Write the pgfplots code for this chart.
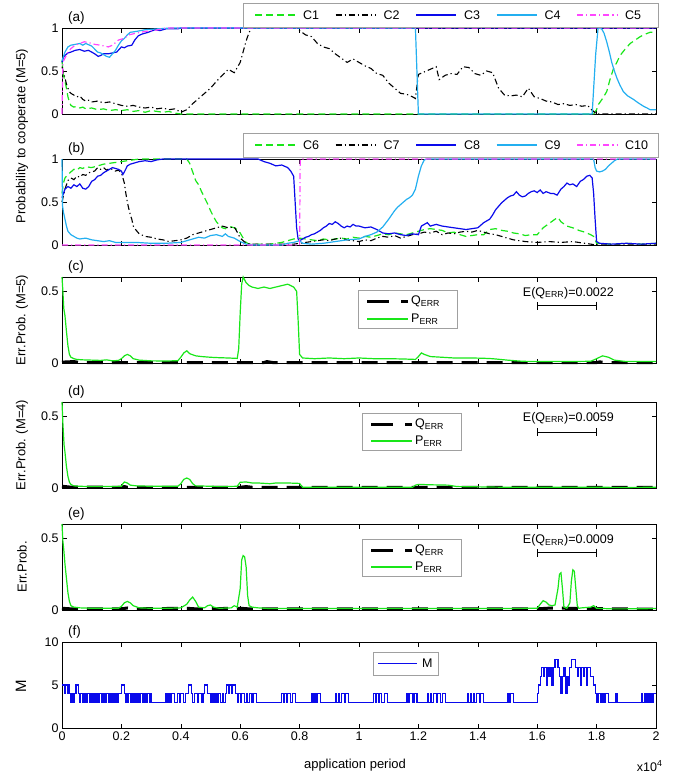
\documentclass[border=0pt]{standalone}
\usepackage{pgfplots}
\pgfplotsset{compat=1.18}
\usepackage{fontspec}
\setmainfont{Liberation Sans}
\usetikzlibrary{arrows.meta}
\definecolor{colG}{RGB}{25,230,25}
\definecolor{colB}{RGB}{10,10,235}
\definecolor{colBL}{RGB}{12,12,236}
\definecolor{colLB}{RGB}{35,175,240}
\definecolor{colM}{RGB}{255,70,255}
\definecolor{legframe}{RGB}{160,160,160}
\tikzset{
 sC1/.style={draw=colG, line width=1.2pt, dash pattern=on 7pt off 4pt},
 sC2/.style={draw=black, line width=1.1pt, dash pattern=on 6pt off 3pt on 1.2pt off 3pt},
 sC3/.style={draw=colB, line width=1.2pt},
 sC4/.style={draw=colLB, line width=1.2pt},
 sC5/.style={draw=colM, line width=1.2pt, dash pattern=on 6pt off 3pt on 1.2pt off 3pt},
 sQ/.style={draw=black, line width=3pt, dash pattern=on 16pt off 9pt},
 sP/.style={draw=colG, line width=1.2pt},
 sM/.style={draw=colB, line width=1.2pt},
 legtxt/.style={anchor=west, inner sep=0pt, font=\fontsize{12.5}{14}\selectfont},
}
\pgfplotsset{
  panel/.style={
    scale only axis, width=594pt, height=86pt, anchor=north west,
    xmin=0, xmax=2,
    xtick={0,0.2,0.4,0.6,0.8,1,1.2,1.4,1.6,1.8,2},
    xticklabels={},
    tick align=inside, major tick length=4.5pt,
    xtick pos=both, ytick pos=both, xticklabel pos=lower, yticklabel pos=left,
    tick style={black, line width=0.6pt},
    axis line style={line width=0.7pt},
    tick label style={font=\fontsize{12.5}{14}\selectfont},
    /pgf/number format/assume math mode=true,
    clip=false,
  },
  ab/.style={ymin=0, ymax=1, ytick={0,0.5,1}, yticklabels={0,0.5,1}},
  err/.style={ymin=0, ymax=0.6, ytick={0,0.5}, yticklabels={0,0.5}},
}
\newcommand{\plab}[1]{\node[anchor=base west, font=\fontsize{13.5}{15}\selectfont, inner sep=0pt] at (rel axis cs:0.01,1.07) {#1};}
% manual legend pieces: \legent{style}{x}{y}{text}
\newcommand{\legent}[4]{\draw[#1] (#2pt,-#3pt) -- ++(40pt,0pt); \node[legtxt] at (#2pt+48pt,-#3pt) {#4};}
\newcommand{\legentb}[4]{\draw[#1] (#2pt,-#3pt) -- ++(41pt,0pt); \node[legtxt] at (#2pt+44pt,-#3pt) {#4};}
\begin{document}
\begin{tikzpicture}
\path[use as bounding box] (0,0) rectangle (684pt,-777pt);

% ---------------- (a)
\begin{axis}[panel, ab, at={(62pt,-28pt)}]
\addplot[sC1] coordinates {(0,0.62)(0.005,0.45)(0.01,0.38)(0.015,0.3)(0.02,0.2)(0.025,0.14)(0.03,0.1)(0.04,0.08)(0.05,0.09)(0.06,0.07)(0.07,0.08)(0.08,0.06)(0.1,0.07)(0.12,0.05)(0.14,0.06)(0.16,0.04)(0.18,0.05)(0.2,0.04)(0.22,0.05)(0.24,0.03)(0.26,0.04)(0.28,0.02)(0.3,0.04)(0.32,0.03)(0.34,0.02)(0.36,0.03)(0.38,0.01)(0.4,0)(1.79,0)(1.8,0.05)(1.806,0.11)(1.82,0.18)(1.834,0.26)(1.845,0.4)(1.857,0.53)(1.868,0.6)(1.879,0.68)(1.895,0.75)(1.913,0.82)(1.93,0.86)(1.947,0.9)(1.965,0.93)(1.98,0.95)(2,0.95)};
\addplot[sC2] coordinates {(0,0.55)(0.005,0.48)(0.01,0.42)(0.015,0.35)(0.02,0.3)(0.025,0.26)(0.03,0.24)(0.04,0.22)(0.05,0.2)(0.06,0.21)(0.07,0.17)(0.08,0.15)(0.09,0.16)(0.1,0.14)(0.12,0.15)(0.14,0.13)(0.16,0.14)(0.18,0.12)(0.2,0.1)(0.22,0.09)(0.24,0.1)(0.26,0.08)(0.28,0.07)(0.3,0.08)(0.32,0.06)(0.34,0.07)(0.36,0.05)(0.38,0.06)(0.4,0.02)(0.42,0.05)(0.44,0.12)(0.46,0.18)(0.48,0.24)(0.5,0.3)(0.52,0.38)(0.54,0.45)(0.56,0.52)(0.58,0.48)(0.6,0.6)(0.62,0.85)(0.63,0.95)(0.64,1)(0.79,1)(0.8,0.97)(0.82,0.92)(0.84,0.9)(0.86,0.82)(0.88,0.78)(0.9,0.76)(0.92,0.7)(0.94,0.65)(0.96,0.6)(0.98,0.64)(1.0,0.6)(1.02,0.56)(1.04,0.53)(1.06,0.47)(1.08,0.45)(1.1,0.36)(1.12,0.3)(1.14,0.24)(1.16,0.23)(1.18,0.2)(1.19,0.18)(1.2,0.46)(1.22,0.49)(1.24,0.52)(1.26,0.55)(1.27,0.4)(1.29,0.45)(1.31,0.47)(1.33,0.46)(1.35,0.55)(1.37,0.54)(1.39,0.47)(1.41,0.45)(1.43,0.5)(1.45,0.48)(1.47,0.3)(1.49,0.22)(1.51,0.21)(1.53,0.22)(1.55,0.2)(1.57,0.3)(1.59,0.2)(1.61,0.18)(1.63,0.15)(1.65,0.14)(1.67,0.11)(1.69,0.12)(1.71,0.1)(1.73,0.11)(1.75,0.09)(1.77,0.1)(1.78,0.06)(1.8,0)(2,0)};
\addplot[sC3] coordinates {(0,0.6)(0.005,0.66)(0.01,0.68)(0.02,0.71)(0.03,0.72)(0.044,0.74)(0.06,0.75)(0.075,0.73)(0.089,0.74)(0.1,0.72)(0.11,0.7)(0.122,0.67)(0.13,0.68)(0.14,0.7)(0.156,0.7)(0.17,0.71)(0.184,0.72)(0.2,0.78)(0.21,0.77)(0.22,0.79)(0.235,0.8)(0.245,0.86)(0.257,0.91)(0.27,0.93)(0.29,0.95)(0.313,0.98)(0.33,0.97)(0.35,0.99)(0.39,0.99)(0.4,1)(2,1)};
\addplot[sC4] coordinates {(0,0.62)(0.01,0.72)(0.02,0.78)(0.03,0.8)(0.045,0.81)(0.06,0.82)(0.07,0.8)(0.08,0.82)(0.1,0.79)(0.12,0.72)(0.13,0.71)(0.15,0.67)(0.16,0.66)(0.17,0.7)(0.18,0.74)(0.19,0.8)(0.2,0.85)(0.21,0.88)(0.22,0.92)(0.23,0.95)(0.25,0.96)(0.28,0.98)(0.32,0.99)(0.37,1)(1.19,1)(1.195,0.5)(1.2,0)(1.785,0)(1.797,0.7)(1.805,1)(1.817,0.99)(1.825,0.94)(1.834,0.84)(1.843,0.72)(1.851,0.6)(1.86,0.5)(1.868,0.42)(1.878,0.34)(1.89,0.26)(1.905,0.21)(1.924,0.17)(1.94,0.13)(1.958,0.09)(1.97,0.07)(1.98,0.05)(2,0.05)};
\addplot[sC5] coordinates {(0,0)(0.003,0.6)(0.01,0.65)(0.02,0.72)(0.03,0.76)(0.044,0.8)(0.06,0.82)(0.075,0.84)(0.09,0.83)(0.11,0.81)(0.13,0.8)(0.156,0.78)(0.17,0.8)(0.19,0.86)(0.21,0.88)(0.225,0.92)(0.25,0.94)(0.28,0.96)(0.31,0.97)(0.35,1)(2,1)};
\plab{(a)}
\end{axis}

% ---------------- (b)
\begin{axis}[panel, ab, at={(62pt,-159pt)}]
\addplot[sC1] coordinates {(0,0.6)(0.005,0.72)(0.01,0.78)(0.02,0.82)(0.03,0.85)(0.04,0.88)(0.05,0.87)(0.06,0.9)(0.07,0.89)(0.08,0.91)(0.1,0.9)(0.12,0.92)(0.14,0.94)(0.16,0.95)(0.18,0.96)(0.2,0.97)(0.22,0.98)(0.24,0.99)(0.26,1)(0.42,1)(0.43,0.95)(0.44,0.85)(0.45,0.75)(0.46,0.7)(0.47,0.62)(0.48,0.55)(0.49,0.48)(0.5,0.4)(0.51,0.33)(0.52,0.27)(0.53,0.23)(0.54,0.2)(0.55,0.19)(0.56,0.22)(0.57,0.21)(0.58,0.2)(0.59,0.18)(0.6,0.14)(0.61,0.08)(0.62,0.03)(0.63,0.01)(0.7,0.01)(0.72,0.02)(0.74,0.03)(0.76,0.05)(0.78,0.07)(0.8,0.08)(0.82,0.07)(0.84,0.06)(0.86,0.05)(0.88,0.07)(0.9,0.06)(0.92,0.07)(0.94,0.08)(0.96,0.07)(0.98,0.09)(1.0,0.08)(1.02,0.1)(1.04,0.09)(1.06,0.11)(1.08,0.13)(1.1,0.12)(1.12,0.14)(1.14,0.13)(1.16,0.12)(1.18,0.14)(1.2,0.16)(1.22,0.18)(1.24,0.19)(1.26,0.18)(1.28,0.17)(1.3,0.14)(1.32,0.15)(1.34,0.12)(1.36,0.1)(1.38,0.11)(1.4,0.12)(1.42,0.12)(1.44,0.18)(1.46,0.19)(1.48,0.17)(1.5,0.16)(1.52,0.14)(1.54,0.13)(1.56,0.11)(1.58,0.12)(1.6,0.12)(1.62,0.2)(1.64,0.25)(1.66,0.3)(1.67,0.32)(1.68,0.27)(1.7,0.22)(1.72,0.2)(1.74,0.17)(1.76,0.15)(1.78,0.12)(1.79,0.1)(1.8,0.02)(1.85,0.01)(1.9,0.02)(1.95,0.01)(2,0.02)};
\addplot[sC2] coordinates {(0,0.5)(0.01,0.65)(0.02,0.75)(0.03,0.78)(0.04,0.76)(0.05,0.8)(0.06,0.79)(0.07,0.82)(0.08,0.81)(0.09,0.84)(0.1,0.85)(0.11,0.86)(0.12,0.9)(0.13,0.88)(0.14,0.9)(0.15,0.87)(0.16,0.89)(0.17,0.88)(0.18,0.86)(0.19,0.87)(0.2,0.84)(0.21,0.72)(0.215,0.6)(0.22,0.5)(0.225,0.42)(0.23,0.35)(0.235,0.3)(0.24,0.22)(0.25,0.17)(0.26,0.13)(0.28,0.1)(0.3,0.09)(0.32,0.07)(0.34,0.06)(0.36,0.04)(0.38,0.05)(0.4,0.06)(0.42,0.08)(0.44,0.12)(0.46,0.14)(0.48,0.16)(0.5,0.18)(0.52,0.2)(0.54,0.22)(0.56,0.2)(0.58,0.21)(0.59,0.15)(0.6,0.08)(0.62,0.02)(0.64,0.01)(0.78,0.01)(0.8,0.02)(0.82,0.03)(0.84,0.04)(0.86,0.05)(0.88,0.06)(0.9,0.05)(0.92,0.07)(0.94,0.08)(0.96,0.06)(0.98,0.05)(1.0,0.04)(1.02,0.06)(1.04,0.05)(1.06,0.08)(1.08,0.1)(1.1,0.09)(1.12,0.11)(1.14,0.08)(1.16,0.1)(1.18,0.12)(1.2,0.13)(1.22,0.15)(1.24,0.14)(1.26,0.16)(1.28,0.12)(1.3,0.14)(1.32,0.13)(1.34,0.15)(1.36,0.16)(1.38,0.15)(1.4,0.17)(1.42,0.15)(1.44,0.13)(1.46,0.12)(1.48,0.1)(1.5,0.08)(1.52,0.06)(1.54,0.05)(1.56,0.04)(1.6,0.03)(1.64,0.04)(1.68,0.03)(1.72,0.04)(1.76,0.02)(1.8,0)(2,0)};
\addplot[sC3] coordinates {(0,0.55)(0.005,0.6)(0.01,0.65)(0.02,0.68)(0.03,0.66)(0.04,0.7)(0.05,0.68)(0.06,0.71)(0.07,0.66)(0.08,0.65)(0.09,0.68)(0.1,0.74)(0.11,0.76)(0.12,0.8)(0.13,0.81)(0.14,0.84)(0.15,0.86)(0.16,0.88)(0.17,0.9)(0.18,0.89)(0.19,0.88)(0.2,0.86)(0.205,0.82)(0.21,0.85)(0.22,0.92)(0.23,0.94)(0.24,0.95)(0.26,0.97)(0.28,0.98)(0.3,0.97)(0.32,0.99)(0.34,1)(0.66,1)(0.68,0.97)(0.7,0.95)(0.72,0.92)(0.74,0.93)(0.76,0.9)(0.77,0.86)(0.78,0.8)(0.785,0.5)(0.79,0.2)(0.795,0.07)(0.8,0.05)(0.81,0.07)(0.82,0.09)(0.83,0.1)(0.84,0.12)(0.85,0.13)(0.86,0.15)(0.87,0.17)(0.88,0.2)(0.89,0.22)(0.9,0.25)(0.91,0.24)(0.92,0.27)(0.93,0.25)(0.94,0.22)(0.95,0.2)(0.96,0.22)(0.97,0.21)(0.98,0.24)(0.99,0.22)(1.0,0.22)(1.02,0.2)(1.04,0.21)(1.06,0.18)(1.08,0.14)(1.1,0.13)(1.12,0.14)(1.14,0.12)(1.16,0.11)(1.18,0.13)(1.2,0.12)(1.21,0.22)(1.22,0.24)(1.23,0.26)(1.24,0.22)(1.26,0.24)(1.28,0.22)(1.3,0.21)(1.32,0.2)(1.34,0.19)(1.36,0.18)(1.38,0.19)(1.4,0.2)(1.42,0.26)(1.44,0.3)(1.45,0.35)(1.46,0.41)(1.47,0.45)(1.48,0.49)(1.49,0.52)(1.5,0.55)(1.51,0.57)(1.52,0.58)(1.53,0.62)(1.54,0.58)(1.55,0.56)(1.56,0.57)(1.57,0.6)(1.58,0.62)(1.59,0.63)(1.6,0.61)(1.61,0.64)(1.62,0.6)(1.63,0.62)(1.645,0.6)(1.655,0.6)(1.667,0.58)(1.68,0.65)(1.69,0.68)(1.7,0.72)(1.71,0.7)(1.72,0.71)(1.733,0.68)(1.745,0.74)(1.755,0.76)(1.767,0.8)(1.777,0.81)(1.785,0.78)(1.79,0.6)(1.795,0.3)(1.8,0.04)(1.81,0.02)(1.85,0.01)(1.9,0.02)(1.95,0.01)(2,0.02)};
\addplot[sC4] coordinates {(0,1)(0.002,0.45)(0.005,0.38)(0.01,0.3)(0.015,0.22)(0.02,0.16)(0.03,0.12)(0.04,0.1)(0.05,0.08)(0.06,0.07)(0.08,0.08)(0.1,0.06)(0.12,0.05)(0.14,0.04)(0.16,0.05)(0.18,0.03)(0.2,0.03)(0.25,0.03)(0.3,0.02)(0.35,0.02)(0.4,0.03)(0.42,0.05)(0.44,0.07)(0.46,0.09)(0.48,0.08)(0.5,0.11)(0.52,0.12)(0.54,0.1)(0.55,0.13)(0.56,0.1)(0.58,0.08)(0.6,0.04)(0.62,0.01)(0.64,0)(0.74,0)(0.76,0.02)(0.78,0.03)(0.8,0.05)(0.81,0.02)(0.84,0.01)(0.88,0.02)(0.92,0.04)(0.96,0.06)(1.0,0.07)(1.02,0.1)(1.04,0.12)(1.06,0.15)(1.08,0.21)(1.1,0.3)(1.12,0.4)(1.13,0.44)(1.14,0.47)(1.15,0.5)(1.16,0.53)(1.17,0.55)(1.18,0.58)(1.19,0.65)(1.2,0.8)(1.21,0.92)(1.22,0.99)(1.23,1)(1.79,1)(1.795,0.9)(1.8,0.86)(1.81,0.85)(1.82,0.86)(1.83,0.88)(1.84,0.92)(1.85,0.95)(1.86,0.98)(1.87,1)(2,1)};
\addplot[sC5] coordinates {(0,0)(0.8,0)(0.802,1)(2,1)};
\plab{(b)}
\end{axis}

% ---------------- (c)
\begin{axis}[panel, err, at={(62pt,-277pt)}]
\addplot[sQ] coordinates {(0,0.006)(0.04,0.01)(0.06,0.003)(0.68,0.003)(0.69,0.01)(0.71,0.003)(1.8,0.003)(1.81,0.008)(1.83,0.003)(2,0.003)};
\addplot[sP] coordinates {(0,0.6)(0.003,0.5)(0.006,0.38)(0.01,0.33)(0.015,0.22)(0.02,0.12)(0.025,0.06)(0.03,0.04)(0.04,0.03)(0.05,0.025)(0.07,0.022)(0.1,0.02)(0.13,0.018)(0.15,0.022)(0.17,0.015)(0.19,0.018)(0.2,0.03)(0.21,0.05)(0.22,0.06)(0.23,0.05)(0.24,0.03)(0.26,0.02)(0.3,0.015)(0.35,0.014)(0.39,0.016)(0.4,0.04)(0.41,0.07)(0.42,0.085)(0.43,0.065)(0.45,0.05)(0.47,0.045)(0.5,0.04)(0.53,0.037)(0.56,0.035)(0.59,0.032)(0.595,0.1)(0.6,0.35)(0.605,0.55)(0.61,0.6)(0.615,0.58)(0.62,0.56)(0.63,0.54)(0.64,0.53)(0.66,0.52)(0.68,0.53)(0.7,0.52)(0.72,0.53)(0.74,0.54)(0.76,0.55)(0.78,0.53)(0.79,0.5)(0.795,0.3)(0.8,0.06)(0.81,0.035)(0.85,0.03)(0.9,0.035)(0.95,0.03)(1.0,0.035)(1.05,0.03)(1.1,0.03)(1.15,0.028)(1.19,0.025)(1.2,0.045)(1.21,0.07)(1.22,0.06)(1.24,0.045)(1.28,0.04)(1.32,0.035)(1.38,0.035)(1.42,0.033)(1.45,0.03)(1.5,0.02)(1.55,0.012)(1.6,0.01)(1.7,0.01)(1.78,0.012)(1.8,0.03)(1.82,0.05)(1.84,0.04)(1.86,0.02)(1.9,0.01)(2,0.01)};
\addplot[black, line width=0.8pt, {Bar[width=8pt]}-{Bar[width=8pt]}, forget plot] coordinates {(1.6,0.4)(1.8,0.4)};
\node[font=\fontsize{12.5}{14}\selectfont] at (axis cs:1.705,0.49) {E(Q\textsubscript{ERR})=0.0022};
\plab{(c)}
\end{axis}

% ---------------- (d)
\begin{axis}[panel, err, at={(62pt,-402pt)}]
\addplot[sQ] coordinates {(0,0.012)(0.03,0.006)(0.2,0.005)(0.21,0.01)(0.22,0.005)(0.6,0.005)(0.62,0.01)(0.64,0.005)(2,0.005)};
\addplot[sP] coordinates {(0,0.6)(0.003,0.45)(0.007,0.3)(0.01,0.25)(0.015,0.15)(0.02,0.08)(0.025,0.04)(0.03,0.025)(0.04,0.015)(0.06,0.012)(0.1,0.01)(0.15,0.01)(0.2,0.012)(0.205,0.03)(0.21,0.042)(0.22,0.035)(0.23,0.02)(0.25,0.015)(0.3,0.012)(0.35,0.012)(0.39,0.012)(0.4,0.03)(0.41,0.06)(0.42,0.07)(0.43,0.06)(0.44,0.03)(0.45,0.015)(0.5,0.012)(0.55,0.01)(0.59,0.012)(0.6,0.04)(0.62,0.042)(0.64,0.035)(0.66,0.035)(0.7,0.03)(0.72,0.035)(0.76,0.035)(0.8,0.032)(0.81,0.005)(0.9,0.005)(1.0,0.005)(1.1,0.005)(1.18,0.005)(1.19,0.02)(1.2,0.025)(1.25,0.022)(1.3,0.02)(1.33,0.01)(1.4,0.008)(1.5,0.005)(1.6,0.005)(1.8,0.005)(1.9,0.004)(2,0.005)};
\addplot[black, line width=0.8pt, {Bar[width=8pt]}-{Bar[width=8pt]}, forget plot] coordinates {(1.6,0.39)(1.8,0.39)};
\node[font=\fontsize{12.5}{14}\selectfont] at (axis cs:1.705,0.49) {E(Q\textsubscript{ERR})=0.0059};
\plab{(d)}
\end{axis}

% ---------------- (e)
\begin{axis}[panel, err, at={(62pt,-524pt)}]
\addplot[sQ] coordinates {(0,0.012)(0.03,0.008)(0.2,0.008)(0.22,0.014)(0.24,0.008)(0.42,0.012)(0.45,0.008)(0.6,0.012)(0.63,0.008)(1.6,0.008)(1.65,0.014)(1.75,0.01)(2,0.006)};
\addplot[sP] coordinates {(0,0.6)(0.003,0.48)(0.006,0.42)(0.01,0.32)(0.015,0.22)(0.02,0.12)(0.025,0.06)(0.03,0.03)(0.04,0.02)(0.06,0.015)(0.1,0.012)(0.15,0.012)(0.19,0.012)(0.2,0.025)(0.21,0.05)(0.22,0.06)(0.23,0.05)(0.24,0.03)(0.26,0.015)(0.3,0.012)(0.36,0.012)(0.4,0.015)(0.42,0.04)(0.43,0.07)(0.44,0.09)(0.45,0.06)(0.46,0.02)(0.48,0.015)(0.49,0.03)(0.5,0.035)(0.51,0.02)(0.53,0.012)(0.57,0.015)(0.58,0.03)(0.59,0.02)(0.6,0.15)(0.605,0.35)(0.61,0.38)(0.615,0.37)(0.62,0.3)(0.625,0.1)(0.63,0.03)(0.64,0.02)(0.66,0.015)(0.7,0.01)(0.8,0.01)(1.0,0.01)(1.2,0.01)(1.4,0.01)(1.6,0.012)(1.61,0.04)(1.62,0.065)(1.63,0.055)(1.64,0.035)(1.65,0.03)(1.66,0.035)(1.67,0.15)(1.675,0.25)(1.68,0.26)(1.685,0.15)(1.69,0.02)(1.7,0.012)(1.71,0.05)(1.715,0.2)(1.72,0.28)(1.725,0.27)(1.73,0.15)(1.735,0.03)(1.74,0.012)(1.75,0.015)(1.78,0.02)(1.79,0.03)(1.8,0.012)(1.85,0.008)(1.9,0.008)(2,0.01)};
\addplot[black, line width=0.8pt, {Bar[width=8pt]}-{Bar[width=8pt]}, forget plot] coordinates {(1.6,0.4)(1.8,0.4)};
\node[font=\fontsize{12.5}{14}\selectfont] at (axis cs:1.705,0.485) {E(Q\textsubscript{ERR})=0.0009};
\plab{(e)}
\end{axis}

% ---------------- (f)
\begin{axis}[panel, at={(62pt,-642pt)}, ymin=0, ymax=10, ytick={0,5,10}, yticklabels={0,5,10},
  xticklabels={0,0.2,0.4,0.6,0.8,1,1.2,1.4,1.6,1.8,2}]
\addplot[sM, const plot] coordinates {(0,5)(0.008,4)(0.01,5)(0.018,4)(0.02,5)(0.026,4)(0.03,3)(0.034,4)(0.04,3)(0.043,4)(0.047,5)(0.055,4)(0.06,3)(0.063,4)(0.068,3)(0.071,4)(0.076,3)(0.079,4)(0.084,3)(0.087,4)(0.092,3)(0.095,4)(0.1,3)(0.103,4)(0.108,3)(0.111,4)(0.116,3)(0.119,4)(0.124,3)(0.127,4)(0.132,3)(0.135,4)(0.14,3)(0.143,4)(0.148,3)(0.151,4)(0.156,3)(0.159,4)(0.164,3)(0.167,4)(0.172,3)(0.175,4)(0.18,3)(0.183,4)(0.188,3)(0.191,4)(0.2,5)(0.21,4)(0.214,3)(0.217,4)(0.222,3)(0.225,4)(0.23,3)(0.233,4)(0.238,3)(0.241,4)(0.246,3)(0.249,4)(0.254,3)(0.257,4)(0.262,3)(0.265,4)(0.27,3)(0.273,4)(0.278,3)(0.281,4)(0.286,3)(0.289,4)(0.294,3)(0.297,4)(0.3,3)(0.35,4)(0.355,3)(0.36,4)(0.366,3)(0.37,4)(0.38,3)(0.39,4)(0.395,3)(0.4,4)(0.41,3)(0.415,4)(0.425,5)(0.435,4)(0.44,3)(0.445,4)(0.455,3)(0.46,4)(0.47,3)(0.475,4)(0.48,5)(0.49,4)(0.5,3)(0.505,4)(0.51,3)(0.515,4)(0.52,3)(0.525,4)(0.535,3)(0.54,4)(0.545,3)(0.55,4)(0.555,5)(0.56,4)(0.565,5)(0.57,4)(0.575,5)(0.585,4)(0.59,3)(0.595,4)(0.6,3)(0.605,4)(0.615,3)(0.62,4)(0.625,3)(0.63,4)(0.64,3)(0.645,4)(0.655,3)(0.74,4)(0.745,3)(0.75,4)(0.755,3)(0.76,4)(0.77,3)(0.775,4)(0.785,3)(0.84,4)(0.845,3)(0.85,4)(0.855,3)(0.86,4)(0.87,3)(0.92,4)(0.925,3)(0.93,4)(0.935,3)(0.94,4)(0.95,3)(0.955,4)(0.965,3)(1.05,4)(1.055,3)(1.06,4)(1.065,3)(1.07,4)(1.075,3)(1.085,4)(1.095,3)(1.16,4)(1.165,3)(1.17,4)(1.18,3)(1.185,4)(1.195,3)(1.23,4)(1.235,3)(1.24,4)(1.245,3)(1.25,4)(1.26,3)(1.265,4)(1.275,3)(1.28,4)(1.29,3)(1.365,4)(1.37,3)(1.375,4)(1.38,3)(1.385,4)(1.39,3)(1.395,4)(1.405,3)(1.41,4)(1.42,3)(1.5,4)(1.505,3)(1.51,4)(1.52,3)(1.6,4)(1.605,5)(1.61,6)(1.615,7)(1.62,6)(1.625,7)(1.63,5)(1.635,7)(1.64,6)(1.645,7)(1.65,5)(1.655,7)(1.66,8)(1.67,7)(1.675,6)(1.68,4)(1.685,6)(1.69,7)(1.695,4)(1.7,6)(1.705,5)(1.71,7)(1.715,8)(1.73,7)(1.735,6)(1.74,7)(1.745,5)(1.75,7)(1.755,6)(1.76,7)(1.765,5)(1.77,7)(1.78,6)(1.79,5)(1.795,4)(1.8,3)(1.805,4)(1.815,3)(1.82,4)(1.825,3)(1.83,4)(1.84,3)(1.865,4)(1.87,3)(1.95,4)(1.955,3)(1.96,4)(1.965,3)(1.97,4)(1.975,3)(1.98,4)(1.985,3)(1.99,4)(2,4)};
\plab{(f)}
\end{axis}

% ---------------- legends (boxes drawn above the axes)
% (a)
\draw[legframe, line width=0.6pt, fill=white] (243pt,-3pt) rectangle (658pt,-27pt);
\legent{sC1}{255}{15}{C1}
\legent{sC2}{335.5}{15}{C2}
\legent{sC3}{416}{15}{C3}
\legent{sC4}{496.5}{15}{C4}
\legent{sC5}{577}{15}{C5}
% (b)
\draw[legframe, line width=0.6pt, fill=white] (243pt,-133pt) rectangle (658pt,-157pt);
\legent{sC1}{255}{145}{C6}
\legent{sC2}{335.5}{145}{C7}
\legent{sC3}{416}{145}{C8}
\legent{sC4}{496.5}{145}{C9}
\legent{sC5}{577}{145}{C10}
% (c)
\draw[legframe, line width=0.6pt, fill=white] (358pt,-290pt) rectangle (457pt,-328pt);
\legentb{draw=black, line width=3pt, dash pattern=on 22pt off 12pt}{367}{301}{Q\textsubscript{ERR}}
\legentb{sP}{367}{319}{P\textsubscript{ERR}}
% (d)
\draw[legframe, line width=0.6pt, fill=white] (362pt,-413pt) rectangle (461pt,-450pt);
\legentb{draw=black, line width=3pt, dash pattern=on 22pt off 12pt}{371}{424}{Q\textsubscript{ERR}}
\legentb{sP}{371}{441}{P\textsubscript{ERR}}
% (e)
\draw[legframe, line width=0.6pt, fill=white] (362pt,-539pt) rectangle (461pt,-576pt);
\legentb{draw=black, line width=3pt, dash pattern=on 22pt off 12pt}{371}{550}{Q\textsubscript{ERR}}
\legentb{sP}{371}{567}{P\textsubscript{ERR}}
% (f)
\draw[legframe, line width=0.6pt, fill=white] (373pt,-652pt) rectangle (438pt,-675pt);
\fill[colBL] (378pt,-662.9pt) rectangle (417pt,-664.1pt);
\node[legtxt] at (422pt,-663.5pt) {M};

\node[rotate=90, font=\fontsize{13}{15}\selectfont] at (22pt,-136pt) {Probability to cooperate (M=5)};
\node[rotate=90, font=\fontsize{13}{15}\selectfont] at (22pt,-320pt) {Err.Prob. (M=5)};
\node[rotate=90, font=\fontsize{13}{15}\selectfont] at (22pt,-445pt) {Err.Prob. (M=4)};
\node[rotate=90, font=\fontsize{13}{15}\selectfont] at (22pt,-567pt) {Err.Prob.};
\node[rotate=90, font=\fontsize{15}{17}\selectfont] at (21pt,-686pt) {M};
\node[font=\fontsize{13}{15}\selectfont] at (355pt,-765pt) {application period};
\node[anchor=east, font=\fontsize{12.5}{14}\selectfont] at (666pt,-766pt) {x10\textsuperscript{4}};
\end{tikzpicture}
\end{document}
